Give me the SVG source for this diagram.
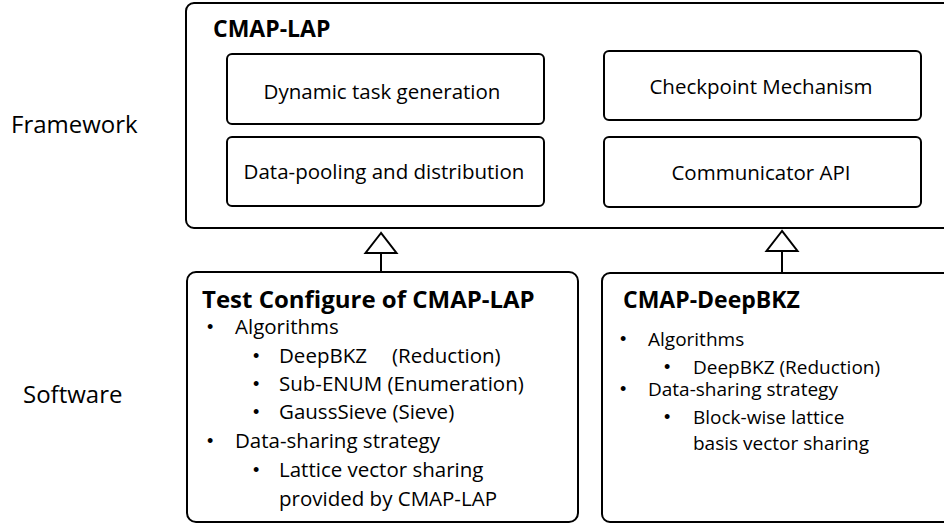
<svg xmlns="http://www.w3.org/2000/svg" width="944" height="524" viewBox="0 0 944 524">
<style>
  .box { fill: #fff; stroke: #000; stroke-width: 2; }
  .t { font-family: "Open Sans", "Noto Sans", sans-serif; fill: #000; }
  .lbl { font-size: 24px; }
  .in { font-size: 20.5px; text-anchor: middle; }
  .title { font-weight: bold; font-size: 23px; }
  .l { font-size: 20.5px; }
  .r { font-size: 19px; }
  .b { font-family: "Liberation Sans", Arial, sans-serif; font-size: 18px; }
  .conn { stroke: #000; stroke-width: 2; fill: none; }
  .head { fill: #fff; stroke: #000; stroke-width: 2; stroke-linejoin: miter; }
</style>
<rect width="944" height="524" fill="#fff"/>
<g id="label-framework"><text class="t lbl" x="11" y="133">Framework</text></g>
<g id="label-software"><text class="t lbl" x="23" y="403">Software</text></g>

<g id="cmap-lap">
  <rect class="box" x="186" y="3" width="770" height="225" rx="8"/>
  <text class="t title" x="213" y="37">CMAP-LAP</text>
</g>
<g id="dynamic-task">
  <rect class="box" x="227" y="54" width="317" height="70" rx="5"/>
  <text class="t in" x="382" y="99">Dynamic task generation</text>
</g>
<g id="data-pooling">
  <rect class="box" x="227" y="137" width="317" height="69" rx="5"/>
  <text class="t in" x="384" y="179">Data-pooling and distribution</text>
</g>
<g id="checkpoint">
  <rect class="box" x="604" y="51" width="317" height="69" rx="5"/>
  <text class="t in" x="761" y="94">Checkpoint Mechanism</text>
</g>
<g id="communicator">
  <rect class="box" x="604" y="137" width="317" height="70" rx="5"/>
  <text class="t in" x="761" y="180">Communicator API</text>
</g>

<g id="connectors">
  <line class="conn" x1="381" y1="253" x2="381" y2="272"/>
  <polygon class="head" points="381,233 365.5,253 396.5,253"/>
  <line class="conn" x1="782" y1="251" x2="782" y2="273"/>
  <polygon class="head" points="782,231 766.5,251 797.5,251"/>
</g>

<g id="test-configure">
  <rect class="box" x="187" y="272" width="391" height="250" rx="9"/>
  <text class="t title" x="202" y="308" style="font-size:24px">Test Configure of CMAP-LAP</text>
  <text class="t b" x="207" y="333">•</text><text class="t l" x="235" y="334">Algorithms</text>
  <text class="t b" x="253" y="362">•</text><text class="t l" x="279" y="363">DeepBKZ</text><text class="t l" x="392" y="363">(Reduction)</text>
  <text class="t b" x="253" y="390">•</text><text class="t l" x="279" y="391">Sub-ENUM (Enumeration)</text>
  <text class="t b" x="253" y="418">•</text><text class="t l" x="279" y="419">GaussSieve (Sieve)</text>
  <text class="t b" x="207" y="447">•</text><text class="t l" x="235" y="448">Data-sharing strategy</text>
  <text class="t b" x="253" y="476">•</text><text class="t l" x="279" y="477">Lattice vector sharing</text>
  <text class="t l" x="279" y="506">provided by CMAP-LAP</text>
</g>

<g id="cmap-deepbkz">
  <rect class="box" x="602" y="273" width="360" height="249" rx="8"/>
  <text class="t title" x="623" y="308">CMAP-DeepBKZ</text>
  <text class="t b" x="620" y="345">•</text><text class="t r" x="648" y="346">Algorithms</text>
  <text class="t b" x="664" y="373">•</text><text class="t r" x="693" y="374">DeepBKZ (Reduction)</text>
  <text class="t b" x="620" y="395">•</text><text class="t r" x="648" y="396">Data-sharing strategy</text>
  <text class="t b" x="664" y="423">•</text><text class="t r" x="693" y="424">Block-wise lattice</text>
  <text class="t r" x="693" y="450">basis vector sharing</text>
</g>
</svg>
